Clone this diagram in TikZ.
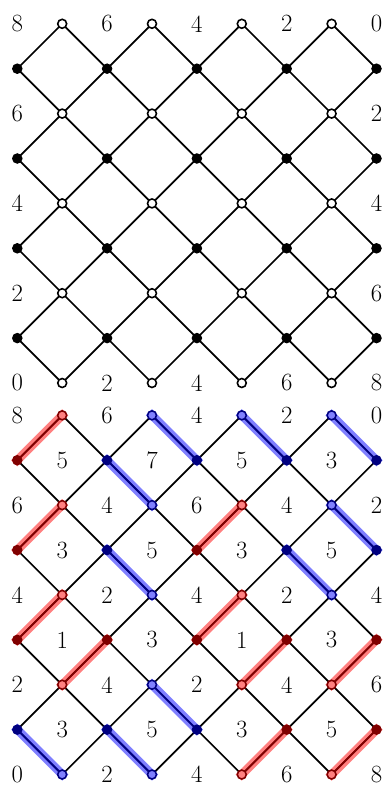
\documentclass[tikz,border=0pt]{standalone}
\definecolor{dred}{RGB}{128,0,0}
\definecolor{dblue}{RGB}{0,0,128}
\begin{document}
\begin{tikzpicture}[x=1cm,y=-1cm,
  edge/.style={line width=1.1pt, black},
  hlred/.style={line width=1.1pt, dred, preaction={draw, red, opacity=0.5, line width=5.5pt, line cap=rect}},
  hlblue/.style={line width=1.1pt, dblue, preaction={draw, blue, opacity=0.5, line width=5.5pt, line cap=rect}},
  wdot/.style={circle, draw=black, fill=white, line width=1pt, inner sep=0pt, minimum size=0.2cm},
  bdot/.style={circle, fill=black, inner sep=0pt, minimum size=0.235cm},
  wred/.style={wdot, draw=dred, fill=red!50},
  wblue/.style={wdot, draw=dblue, fill=blue!50},
  bred/.style={bdot, fill=dred},
  bblue/.style={bdot, fill=dblue},
  lab/.style={font=\fontsize{15.7}{18}\selectfont, inner sep=0pt}]
\useasboundingbox (-0.385,-0.530) rectangle (8.167,16.953);
% grid points
\foreach \g/\oy in {1/0,2/8.72} {
  \foreach \c in {0,...,8} {
    \foreach \r in {0,...,8} {
      \coordinate (g\g-\c-\r) at (\c,\r+\oy);
    }
  }
}
% lattice edges
\foreach \g in {1,2} {
  \foreach \c in {1,3,5,7} {
    \foreach \r in {1,3,5,7} {
      \pgfmathtruncatemacro\cl{\c-1}
      \pgfmathtruncatemacro\cr{\c+1}
      \pgfmathtruncatemacro\ru{\r-1}
      \pgfmathtruncatemacro\rd{\r+1}
      \draw[edge] (g\g-\c-\ru) -- (g\g-\cr-\r) -- (g\g-\c-\rd) -- (g\g-\cl-\r) -- cycle;
    }
  }
}
% highlighted edges
\foreach \a/\b in {0-1/1-0, 0-3/1-2, 4-3/5-2, 0-5/1-4, 2-5/1-6, 4-5/5-4, 5-6/6-5, 7-6/8-5, 5-8/6-7, 7-8/8-7} {
  \draw[hlred] (g2-\a) -- (g2-\b);
}
\foreach \a/\b in {3-0/4-1, 2-1/3-2, 2-3/3-4, 5-0/6-1, 7-0/8-1, 7-2/8-3, 6-3/7-4, 3-6/4-7, 0-7/1-8, 2-7/3-8} {
  \draw[hlblue] (g2-\a) -- (g2-\b);
}
% grid 1 dots
\foreach \c in {1,3,5,7} {
  \foreach \r in {0,2,4,6,8} {
    \node[wdot] (d1-\c-\r) at (g1-\c-\r) {};
  }
}
\foreach \c in {0,2,4,6,8} {
  \foreach \r in {1,3,5,7} {
    \node[bdot] (d1-\c-\r) at (g1-\c-\r) {};
  }
}
% grid 2 dots
\foreach \p in {1-0, 1-2, 5-2, 1-4, 5-4, 1-6, 5-6, 7-6, 5-8, 7-8} {
  \node[wred] (d2-\p) at (g2-\p) {};
}
\foreach \p in {3-0, 5-0, 7-0, 3-2, 7-2, 3-4, 7-4, 3-6, 1-8, 3-8} {
  \node[wblue] (d2-\p) at (g2-\p) {};
}
\foreach \p in {0-1, 0-3, 4-3, 0-5, 2-5, 4-5, 6-5, 8-5, 6-7, 8-7} {
  \node[bred] (d2-\p) at (g2-\p) {};
}
\foreach \p in {2-1, 4-1, 6-1, 8-1, 2-3, 6-3, 8-3, 0-7, 2-7, 4-7} {
  \node[bblue] (d2-\p) at (g2-\p) {};
}
% grid 1 labels
\foreach \p/\t in {0-0/8, 2-0/6, 4-0/4, 6-0/2, 8-0/0,
  0-2/6, 0-4/4, 0-6/2, 8-2/2, 8-4/4, 8-6/6,
  0-8/0, 2-8/2, 4-8/4, 6-8/6, 8-8/8} {
  \node[lab] (l1-\p) at (g1-\p) {\t};
}
% grid 2 labels
\foreach \p/\t in {0-0/8, 2-0/6, 4-0/4, 6-0/2, 8-0/0,
  1-1/5, 3-1/7, 5-1/5, 7-1/3,
  0-2/6, 2-2/4, 4-2/6, 6-2/4, 8-2/2,
  1-3/3, 3-3/5, 5-3/3, 7-3/5,
  0-4/4, 2-4/2, 4-4/4, 6-4/2, 8-4/4,
  1-5/1, 3-5/3, 5-5/1, 7-5/3,
  0-6/2, 2-6/4, 4-6/2, 6-6/4, 8-6/6,
  1-7/3, 3-7/5, 5-7/3, 7-7/5,
  0-8/0, 2-8/2, 4-8/4, 6-8/6, 8-8/8} {
  \node[lab] (l2-\p) at (g2-\p) {\t};
}
\end{tikzpicture}
\end{document}
